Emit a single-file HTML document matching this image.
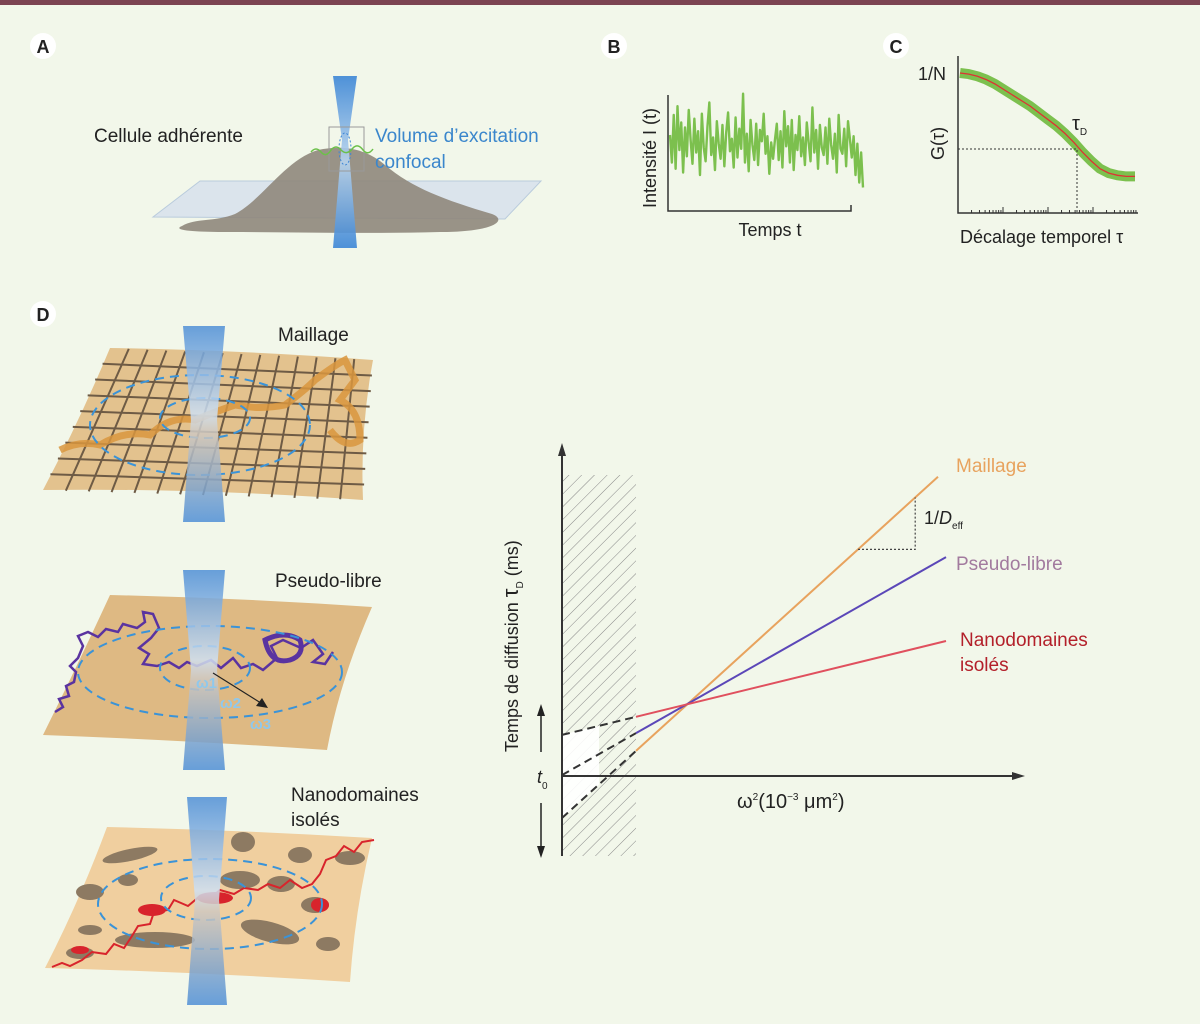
<!DOCTYPE html>
<html><head><meta charset="utf-8"><style>
html,body{margin:0;padding:0;background:#f2f7ea;}
svg{display:block;font-family:"Liberation Sans",sans-serif;}
</style></head><body>
<svg id="fig" width="1200" height="1024" viewBox="0 0 1200 1024">
<defs>
<linearGradient id="beam" x1="0" y1="0" x2="0" y2="1"><stop offset="0" stop-color="#4f8fd6"/><stop offset="0.45" stop-color="#cfe0f2"/><stop offset="0.55" stop-color="#cfc8c0"/><stop offset="1" stop-color="#4f8fd6"/></linearGradient>
<linearGradient id="beamA" x1="0" y1="0" x2="0" y2="1"><stop offset="0" stop-color="#3c86d6"/><stop offset="0.5" stop-color="#b8d4ee"/><stop offset="1" stop-color="#3c86d6"/></linearGradient>
<pattern id="hatch" width="9" height="9" patternUnits="userSpaceOnUse" patternTransform="rotate(45)"><line x1="0" y1="0" x2="0" y2="9" stroke="#888" stroke-width="1"/></pattern>
</defs>
<rect x="0" y="0" width="1200" height="1024" fill="#f2f7ea"/>
<rect x="0" y="0" width="1200" height="5" fill="#7c4452"/>

<!-- Panel A -->
<g>
<circle cx="43" cy="46" r="13" fill="#fff"/>
<text x="43" y="53" text-anchor="middle" font-size="18" font-weight="bold" fill="#222">A</text>
<polygon points="200,181 541,181 505,219 153,217" fill="#dbe4ec" stroke="#b9cbdc"/>
<path d="M182,226 C195,218 215,222 235,214 C262,200 285,160 318,150 C345,144 368,150 385,165 C412,188 445,200 492,214 C508,220 495,232 440,232 C370,234 300,232 230,232 C190,232 172,230 182,226 Z" fill="#8f877c" opacity="0.9"/>
<path d="M333,76 L357,76 L348,140 L357,248 L333,248 L342,140 Z" fill="url(#beamA)" opacity="0.9"/>
<rect x="329" y="127" width="35" height="44" fill="none" stroke="#999"/>
<ellipse cx="345" cy="149" rx="6" ry="16" fill="none" stroke="#3c86d6" stroke-dasharray="2,2"/>
<path d="M311,152 q5,-6 10,0 q5,6 10,-2 q5,-6 10,0 q6,6 12,-2 q5,-5 10,2 q5,6 10,-1" fill="none" stroke="#6cc04a" stroke-width="1.5"/>
<text x="94" y="142" font-size="19" fill="#222">Cellule adhérente</text>
<text x="375" y="142" font-size="19" fill="#3a86cc">Volume d’excitation</text>
<text x="375" y="168" font-size="19" fill="#3a86cc">confocal</text>
</g>

<!-- Panel B -->
<g>
<circle cx="614" cy="46" r="13" fill="#fff"/>
<text x="614" y="53" text-anchor="middle" font-size="18" font-weight="bold" fill="#222">B</text>
<polyline id="traceB" fill="none" stroke="#7cc04e" stroke-width="2.4" stroke-linejoin="round"/>
<polyline points="668,95 668,211 851,211 851,205" fill="none" stroke="#333" stroke-width="1.5"/>
<text transform="translate(656,208) rotate(-90)" font-size="18" fill="#222">Intensité I (t)</text>
<text x="770" y="236" text-anchor="middle" font-size="18" fill="#222">Temps t</text>
</g>

<!-- Panel C -->
<g>
<circle cx="896" cy="46" r="13" fill="#fff"/>
<text x="896" y="53" text-anchor="middle" font-size="18" font-weight="bold" fill="#222">C</text>
<polyline id="greenC" fill="none" stroke="#7cc04e" stroke-width="10" stroke-linejoin="round"/>
<polyline id="redC" fill="none" stroke="#d33" stroke-width="1.3"/>
<polyline points="958,56 958,213 1138,213" fill="none" stroke="#333" stroke-width="1.5"/>
<g id="ticksC"></g>
<polyline points="958,149 1077,149 1077,213" fill="none" stroke="#333" stroke-width="1" stroke-dasharray="2,2"/>
<text x="946" y="80" text-anchor="end" font-size="18" fill="#222">1/N</text>
<text transform="translate(944,160) rotate(-90)" font-size="18" fill="#222">G(τ)</text>
<text x="1072" y="130" font-size="20" fill="#222">τ<tspan font-size="10" dy="5">D</tspan></text>
<text x="960" y="243" font-size="18" fill="#222">Décalage temporel τ</text>
</g>

<!-- Panel D illustrations -->
<g>
<circle cx="43" cy="314" r="13" fill="#fff"/>
<text x="43" y="321" text-anchor="middle" font-size="18" font-weight="bold" fill="#222">D</text>

<g>
<path d="M110,348 Q240,350 373,360 Q360,430 363,500 Q200,488 43,490 Q80,420 110,348 Z" fill="#e3c28e"/>
<g id="meshGrid" stroke="#6e5b45" stroke-width="2" fill="none"></g>
<path d="M60,450 q20,-10 40,-5 q25,-15 50,-10 q20,-20 45,-15 q25,-10 40,-15 q25,5 50,0 q20,-15 30,-25 q20,-15 30,-20 l10,20 l-15,20 q20,10 20,40 q-15,10 -30,-10" fill="none" stroke="#d9963e" stroke-width="7" opacity="0.85"/>
<ellipse cx="200" cy="425" rx="110" ry="50" fill="none" stroke="#3a93d8" stroke-width="2" stroke-dasharray="9,6"/>
<ellipse cx="205" cy="418" rx="45" ry="20" fill="none" stroke="#3a93d8" stroke-width="2" stroke-dasharray="9,6"/>
<path d="M183,326 L225,326 L217,420 L225,522 L183,522 L191,420 Z" fill="url(#beam)" opacity="0.85"/>
<text x="278" y="341" font-size="19" fill="#222">Maillage</text>
</g>

<g>
<path d="M110,595 Q240,598 372,607 Q340,680 327,750 Q180,740 43,735 Q80,660 110,595 Z" fill="#deb983"/>
<path d="M55,712 l8,-5 l-4,-8 l10,-3 l-3,-10 l8,-4 l2,-10 l-6,-6 l8,-8 l5,-12 l-5,-10 l10,-4 l10,5 l8,-8 l12,3 l5,-8 l14,4 l8,-6 l-2,-10 l10,2 l6,14 l-8,10 l-12,10 l10,6 l-6,10 l14,2 l12,-4 l10,6 l8,-6 l10,4 l14,-6 l10,8 l12,-10 l8,10 l12,-4 l10,6 l14,-12 l-6,-12 l12,-6 l18,8 l12,-8 l10,14 l-10,8 l12,2 l8,-12" fill="none" stroke="#5a33a0" stroke-width="2.5"/>
<path d="M265,640 q20,-10 35,0 q5,15 -10,20 q-20,5 -25,-20 Z" fill="none" stroke="#5a33a0" stroke-width="5"/>
<ellipse cx="210" cy="672" rx="132" ry="46" fill="none" stroke="#3a93d8" stroke-width="2" stroke-dasharray="9,6"/>
<ellipse cx="205" cy="668" rx="45" ry="22" fill="none" stroke="#3a93d8" stroke-width="2" stroke-dasharray="9,6"/>
<path d="M183,570 L225,570 L217,670 L225,770 L183,770 L191,670 Z" fill="url(#beam)" opacity="0.85"/>
<line x1="213" y1="673" x2="264" y2="705" stroke="#222" stroke-width="1.2"/>
<polygon points="268,708 256,706 262,698" fill="#222"/>
<text x="196" y="688" font-size="15" fill="#8fc8ec" font-weight="bold">ω1</text>
<text x="220" y="708" font-size="15" fill="#8fc8ec" font-weight="bold">ω2</text>
<text x="250" y="729" font-size="15" fill="#8fc8ec" font-weight="bold">ω3</text>
<text x="275" y="587" font-size="19" fill="#222">Pseudo-libre</text>
</g>

<g>
<path d="M107,827 Q240,830 372,838 Q355,910 350,982 Q200,972 45,968 Q80,900 107,827 Z" fill="#f0cf9f"/>
<g fill="#8d7a62">
<ellipse cx="130" cy="855" rx="28" ry="6" transform="rotate(-12 130 855)"/><ellipse cx="243" cy="842" rx="12" ry="10"/><ellipse cx="300" cy="855" rx="12" ry="8"/><ellipse cx="350" cy="858" rx="15" ry="7"/>
<ellipse cx="240" cy="880" rx="20" ry="9"/><ellipse cx="281" cy="884" rx="14" ry="8"/><ellipse cx="128" cy="880" rx="10" ry="6"/><ellipse cx="90" cy="892" rx="14" ry="8"/>
<ellipse cx="90" cy="930" rx="12" ry="5"/><ellipse cx="155" cy="940" rx="40" ry="8"/><ellipse cx="270" cy="932" rx="30" ry="10" transform="rotate(15 270 932)"/><ellipse cx="328" cy="944" rx="12" ry="7"/>
<ellipse cx="80" cy="953" rx="14" ry="6"/><ellipse cx="315" cy="905" rx="14" ry="8"/>
</g>
<path d="M52,967 l10,-4 l8,3 l12,-6 l10,-8 l14,2 l8,-10 l10,4 l8,-12 l6,-10 l12,-2 l4,-12 l14,-2 l6,-10 l14,6 l12,-10 l10,2 l10,-8 l14,4 l10,-6 l14,2 l10,-6 l12,4 l10,-8 l12,8 l10,-4 l8,-10 l6,-14 l10,-4 l8,-10 l10,6 l8,-10 l12,-2" fill="none" stroke="#d8242c" stroke-width="2"/>
<g fill="#d8242c"><ellipse cx="152" cy="910" rx="14" ry="6"/><ellipse cx="215" cy="898" rx="18" ry="6"/><ellipse cx="320" cy="905" rx="9" ry="7"/><ellipse cx="80" cy="950" rx="9" ry="4"/></g>
<ellipse cx="210" cy="904" rx="112" ry="45" fill="none" stroke="#3a93d8" stroke-width="2" stroke-dasharray="9,6"/>
<ellipse cx="206" cy="898" rx="45" ry="22" fill="none" stroke="#3a93d8" stroke-width="2" stroke-dasharray="9,6"/>
<path d="M187,797 L227,797 L219,900 L227,1005 L187,1005 L195,900 Z" fill="url(#beam)" opacity="0.85"/>
<text x="291" y="801" font-size="19" fill="#222">Nanodomaines</text>
<text x="291" y="826" font-size="19" fill="#222">isolés</text>
</g>
</g>

<!-- Diffusion law chart -->
<g id="chart">
<rect x="562" y="475" width="74" height="381" fill="url(#hatch)"/>
<polygon id="whiteWedge" fill="#fff" opacity="0.9"/>
<g id="lines"></g>
<line x1="562" y1="856" x2="562" y2="450" stroke="#333" stroke-width="2"/>
<polygon points="562,443 558,456 566,456" fill="#333"/>
<line x1="562" y1="776" x2="1015" y2="776" stroke="#333" stroke-width="2"/>
<polygon points="1025,776 1012,772 1012,780" fill="#333"/>
<line x1="541" y1="752" x2="541" y2="712" stroke="#222" stroke-width="1.5"/>
<polygon points="541,704 537,716 545,716" fill="#222"/>
<line x1="541" y1="803" x2="541" y2="850" stroke="#222" stroke-width="1.5"/>
<polygon points="541,858 537,846 545,846" fill="#222"/>
<text x="537" y="783" font-size="18" font-style="italic" fill="#222">t<tspan font-size="10" dy="6" font-style="normal">0</tspan></text>
<text transform="translate(518,752) rotate(-90)" font-size="18" fill="#222">Temps de diffusion <tspan font-size="22">τ</tspan><tspan font-size="10" dy="5">D</tspan><tspan dy="-5"> (ms)</tspan></text>
<text x="737" y="808" font-size="20" fill="#222">ω<tspan font-size="10" dy="-8">2</tspan><tspan dy="8">(10</tspan><tspan font-size="10" dy="-8">−3</tspan><tspan dy="8"> μm</tspan><tspan font-size="10" dy="-8">2</tspan><tspan dy="8">)</tspan></text>
<polyline id="slopeTri" fill="none" stroke="#444" stroke-width="1.2" stroke-dasharray="2,2"/>
<text x="924" y="524" font-size="18" fill="#222">1/<tspan font-style="italic">D</tspan><tspan font-size="10" dy="5">eff</tspan></text>
<text x="956" y="472" font-size="19" fill="#e8a35e">Maillage</text>
<text x="956" y="570" font-size="19" fill="#a27a9e">Pseudo-libre</text>
<text x="960" y="646" font-size="19" fill="#b3202a">Nanodomaines</text>
<text x="960" y="671" font-size="19" fill="#b3202a">isolés</text>
</g>
</svg>
<script>
// ---- Diffusion law chart data ----
const seriesNames = ['maillage', 'pseudo-libre', 'nanodomaines'];
const seriesColors = ['#e8a35e', '#5b47b8', '#e0505e'];
const intercepts = [-1.4, 0.03, 1.37];      // t0 (tau at omega^2 = 0)
const slopes = [1.21, 0.757, 0.326];          // 1/Deff
const xMeasStart = [1.85, 1.85, 1.85];        // first measured omega^2
const xMeasEnd = [9.4, 9.6, 9.6];             // last measured omega^2
// ---- Panel B / C data ----
const intensityB = [5.2,3.0,6.8,2.5,7.5,4.0,6.2,2.2,5.8,3.5,7.2,4.8,2.9,6.5,3.8,5.5,2.0,6.9,4.2,3.1,5.9,7.8,3.6,5.0,2.4,6.3,4.5,3.3,6.0,2.7,5.4,7.0,3.9,4.9,2.6,6.6,3.4,5.7,4.1,8.5,3.0,5.3,2.3,6.4,4.4,3.2,6.1,2.8,5.6,4.7,6.9,3.7,5.1,2.1,4.6,3.3,
 4.8,6.1,3.2,5.5,2.6,7.1,4.3,5.9,3.0,6.4,2.4,5.2,4.0,6.7,3.5,5.0,2.8,6.2,4.6,3.1,7.4,3.8,5.6,2.5,6.0,4.2,3.6,5.8,2.9,6.5,4.4,3.3,5.3,2.2,6.8,4.1,3.7,5.7,2.7,6.3,4.9,3.4,5.1,2.0,4.5,1.4,3.8,1.0];
const corrX = [0,0.05,0.1,0.15,0.2,0.25,0.3,0.35,0.4,0.45,0.5,0.55,0.6,0.65,0.7,0.75,0.8,0.85,0.9,0.95,1.0];
const corrG = [1.0,0.99,0.97,0.94,0.90,0.85,0.80,0.75,0.70,0.64,0.58,0.52,0.45,0.37,0.28,0.20,0.13,0.09,0.07,0.06,0.06];

const NS = 'http://www.w3.org/2000/svg';
const xScale = v => 562 + v * 40;
const yScale = v => 776 - v * 30;
const linesG = document.getElementById('lines');
for (let i = 0; i < seriesNames.length; i++) {
  const y0 = intercepts[i], s = slopes[i];
  const d = document.createElementNS(NS, 'line');
  d.setAttribute('x1', xScale(0)); d.setAttribute('y1', yScale(y0));
  d.setAttribute('x2', xScale(xMeasStart[i])); d.setAttribute('y2', yScale(y0 + s * xMeasStart[i]));
  d.setAttribute('stroke', '#333'); d.setAttribute('stroke-width', '2'); d.setAttribute('stroke-dasharray', '8,5');
  
  
  linesG.appendChild(d);
  const l = document.createElementNS(NS, 'line');
  l.setAttribute('x1', xScale(xMeasStart[i])); l.setAttribute('y1', yScale(y0 + s * xMeasStart[i]));
  l.setAttribute('x2', xScale(xMeasEnd[i])); l.setAttribute('y2', yScale(y0 + s * xMeasEnd[i]));
  l.setAttribute('stroke', seriesColors[i]); l.setAttribute('stroke-width', '2');
  
  
  linesG.appendChild(l);
}
{
  const top = intercepts.indexOf(Math.max(...intercepts)), bot = intercepts.indexOf(Math.min(...intercepts));
  const xs = xMeasStart[0];
  document.getElementById('whiteWedge').setAttribute('points',
    [xScale(0)+','+yScale(intercepts[top]), xScale(xs*0.5)+','+yScale(intercepts[top]+slopes[top]*xs*0.5),
     xScale(xs*0.5)+','+yScale(intercepts[bot]+slopes[bot]*xs*0.5), xScale(0)+','+yScale(intercepts[bot])].join(' '));
}
{
  const xa = 7.4, xb = 8.83;
  const ya = intercepts[0] + slopes[0] * xa, yb = intercepts[0] + slopes[0] * xb;
  document.getElementById('slopeTri').setAttribute('points',
    xScale(xa)+','+yScale(ya)+' '+xScale(xb)+','+yScale(ya)+' '+xScale(xb)+','+yScale(yb));
}
{
  const bx = i => 670 + i * (193 / (intensityB.length - 1));
  const by = v => 200 - v * 12.5;
  document.getElementById('traceB').setAttribute('points', intensityB.map((v, i) => bx(i) + ',' + by(v)).join(' '));
}
{
  const cx = v => 960 + v * 175;
  const cy = v => 183 - v * 110;
  const pts = corrX.map((v, i) => cx(v) + ',' + cy(corrG[i])).join(' ');
  document.getElementById('greenC').setAttribute('points', pts);
  document.getElementById('redC').setAttribute('points', pts);
  const tg = document.getElementById('ticksC');
  for (let d = 0; d < 4; d++) for (let k = 1; k <= 9; k++) {
    const x = 958 + d * 45 + Math.log10(k) * 45;
    if (x > 1138) continue;
    const t = document.createElementNS(NS, 'line');
    t.setAttribute('x1', x); t.setAttribute('x2', x); t.setAttribute('y1', 213); t.setAttribute('y2', k === 1 ? 207 : 210);
    t.setAttribute('stroke', '#333');
    
    
    tg.appendChild(t);
  }
}
{
  const g = document.getElementById('meshGrid');
  const lerp = (a, b, t) => a + (b - a) * t;
  const P = (u, v) => {
    const tx = lerp(110, 373, u), ty = lerp(348, 360, u);
    const bx = lerp(43, 363, u), by = lerp(490, 500, u);
    return [lerp(tx, bx, v), lerp(ty, by, v)];
  };
  for (let i = 1; i < 14; i++) {
    const u = i / 14; const p1 = P(u, 0), p2 = P(u, 1);
    const l = document.createElementNS(NS, 'line');
    l.setAttribute('x1', p1[0]); l.setAttribute('y1', p1[1]); l.setAttribute('x2', p2[0]); l.setAttribute('y2', p2[1]);
    
    
    g.appendChild(l);
  }
  for (let j = 1; j < 9; j++) {
    const v = j / 9; const p1 = P(0, v), p2 = P(1, v);
    const l = document.createElementNS(NS, 'line');
    l.setAttribute('x1', p1[0]); l.setAttribute('y1', p1[1]); l.setAttribute('x2', p2[0]); l.setAttribute('y2', p2[1]);
    
    
    g.appendChild(l);
  }
}
</script>
</body></html>
